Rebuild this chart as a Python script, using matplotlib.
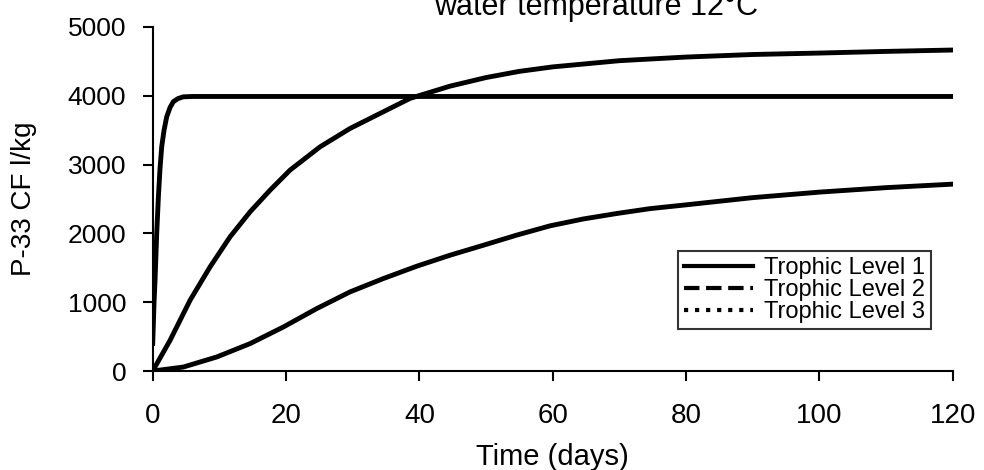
import numpy as np
import matplotlib.pyplot as plt
from matplotlib.lines import Line2D

plt.rcParams['font.family'] = ['Liberation Sans', 'DejaVu Sans']

# Dane
t1 = [0, 0.2, 0.35, 0.6, 0.85, 1.1, 1.35, 1.7, 2.1, 2.6, 3.1, 3.8, 4.6, 6, 120]
level1 = [400, 1000, 1320, 2000, 2530, 2950, 3260, 3500, 3695, 3830, 3915, 3960, 3985,
          3990, 3990]

t2 = [0, 2.6, 5.6, 8.6, 11.6, 14.6, 17.6, 20.6, 25.1, 29.6, 34.6, 38.6, 44.6, 50, 55,
      60, 70, 80, 90, 100, 110, 120]
level2 = [0, 446, 1028, 1513, 1950, 2313, 2628, 2920, 3258, 3525, 3768, 3962, 4140,
          4265, 4355, 4420, 4510, 4563, 4600, 4621, 4645, 4665]

t3 = [0, 4.6, 9.6, 14.6, 19.6, 24.6, 29.6, 34.6, 39.6, 44.6, 49.6, 54.6, 59.6, 64.6,
      69.6, 74.6, 80, 90, 100, 110, 120]
level3 = [0, 58, 204, 398, 640, 907, 1150, 1344, 1523, 1683, 1828, 1975, 2110, 2210,
          2289, 2360, 2415, 2520, 2600, 2665, 2716]

labels = ['Trophic Level 1', 'Trophic Level 2', 'Trophic Level 3']
styles = ['-', '--', ':']

fig = plt.figure(figsize=(9.84, 4.70), dpi=100)
ax = fig.add_axes([0.1552, 0.2106, 0.813, 0.732])

# linie na wykresie wyglądają jak ciągłe (gęste punkty), legenda pokazuje style
for t, y in [(t1, level1), (t2, level2), (t3, level3)]:
    ax.plot(t, y, color='black', lw=3.5, solid_joinstyle='round')

ax.set_xlim(0, 120)
ax.set_ylim(0, 5000)
ax.set_xticks(np.arange(0, 121, 20))
ax.set_yticks(np.arange(0, 5001, 1000))
ax.tick_params(axis='y', labelsize=19, width=1.5, length=7, pad=12, direction='out')
ax.tick_params(axis='x', labelsize=20, width=1.5, length=7, pad=16, direction='out')
for s in ['top', 'right']:
    ax.spines[s].set_visible(False)
for s in ['left', 'bottom']:
    ax.spines[s].set_linewidth(1.5)

ax.set_xlabel('Time (days)', fontsize=21)
ax.set_ylabel('P-33 CF l/kg', fontsize=20)
ax.xaxis.set_label_coords(0.5, -0.209)
ax.yaxis.set_label_coords(-0.145, 0.5)

fig.text(596 / 984, 1 - 15 / 470, 'water temperature 12°C', fontsize=22,
         ha='center', va='baseline')

handles = [Line2D([0], [0], color='black', lw=3, ls=st) for st in styles]
leg = ax.legend(handles, labels, loc='upper left', bbox_to_anchor=(0.657, 0.349),
                fontsize=17, frameon=True, fancybox=False, edgecolor='black',
                handlelength=2.9, handletextpad=0.5, labelspacing=0.0,
                borderpad=0.25, borderaxespad=0)
leg.get_frame().set_linewidth(1.5)

plt.savefig('out.png', dpi=100)
